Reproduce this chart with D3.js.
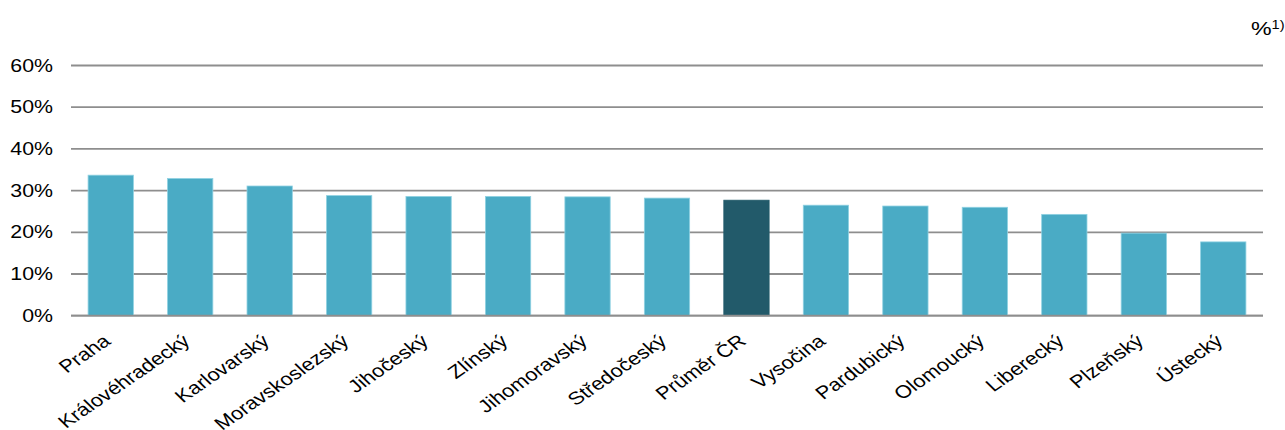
<!DOCTYPE html>
<html>
<head>
<meta charset="utf-8">
<script src="https://cdn.jsdelivr.net/npm/d3@7"></script>
<style>
    body { margin: 0; background: #fff; }
    svg { display: block; font-family: "Liberation Sans", Arial, sans-serif; }
    .grid line { stroke: #8e8e8e; stroke-width: 1.8; }
    .tick-label, .cat-label, .unit { fill: #000; }
</style>
</head>
<body>
<div id="chart"></div>
<script>

var regions = ["Praha", "Královéhradecký", "Karlovarský", "Moravskoslezský", "Jihočeský",
    "Zlínský", "Jihomoravský", "Středočeský", "Průměr ČR", "Vysočina", "Pardubický",
    "Olomoucký", "Liberecký", "Plzeňský", "Ústecký"];

var shares = [33.7, 32.9, 31.1, 28.8, 28.6, 28.6, 28.5, 28.2, 27.7, 26.5, 26.3, 26.0, 24.3, 19.8, 17.7];

var highlighted = ["Průměr ČR"];

var yTicks = [0, 10, 20, 30, 40, 50, 60];

var chartWidth = 1285
    , chartHeight = 430
    , plotLeft = 71
    , plotRight = 1263
    , plotTop = 65.5
    , plotBottom = 315.7
    , stretch = 1.22
    ;

var svg = d3.select("#chart")
    .append("svg")
    .attr("width", chartWidth)
    .attr("height", chartHeight);

var data = regions.map(function(r, i) { return {name: r, value: shares[i]}; });

var x = d3.scaleBand()
    .domain(regions)
    .range([plotLeft, plotRight])
    .paddingInner(0.43)
    .paddingOuter(0.215);

var y = d3.scaleLinear()
    .domain([0, 60])
    .range([plotBottom, plotTop]);

// horizontal grid lines
svg.append("g")
    .attr("class", "grid")
    .selectAll("line")
    .data(yTicks)
    .enter()
    .append("line")
    .attr("x1", plotLeft)
    .attr("x2", plotRight)
    .attr("y1", function(d) { return y(d); })
    .attr("y2", function(d) { return y(d); });

svg.append("g")
    .selectAll("text")
    .data(yTicks)
    .enter()
    .append("text")
    .attr("class", "tick-label")
    .attr("transform", function(d) { return "translate(53," + y(d) + ") scale(" + stretch + ",1)"; })
    .attr("dy", "0.35em")
    .attr("text-anchor", "end")
    .style("font-size", "17.5px")
    .text(function(d) { return d + "%"; });

svg.append("g")
    .selectAll("rect")
    .data(data)
    .enter()
    .append("rect")
    .attr("x", function(d) { return x(d.name); })
    .attr("width", x.bandwidth())
    .attr("y", function(d) { return y(d.value); })
    .attr("height", function(d) { return y(0) - y(d.value); })
    .attr("fill", function(d) { return highlighted.indexOf(d.name) >= 0 ? "#225a6a" : "#4aabc5"; })
    .attr("stroke", function(d) { return highlighted.indexOf(d.name) >= 0 ? "#225a6a" : "#8fd1e2"; })
    .attr("stroke-width", 0.8);

// base line over the bars
svg.append("line")
    .attr("x1", plotLeft)
    .attr("x2", plotRight)
    .attr("y1", y(0))
    .attr("y2", y(0))
    .attr("stroke", "#8e8e8e")
    .attr("stroke-width", 1.8);

svg.append("g")
    .selectAll("text")
    .data(regions)
    .enter()
    .append("text")
    .attr("class", "cat-label")
    .attr("transform", function(d) {
        var cx = x(d) + x.bandwidth() / 2;
        return "translate(" + (cx + 1) + ",343) scale(" + stretch + ",1) rotate(-40)";
    })
    .attr("text-anchor", "end")
    .style("font-size", "18px")
    .text(function(d) { return d; });

var unit = svg.append("text")
    .attr("class", "unit")
    .attr("transform", "translate(1251,35) scale(" + stretch + ",1)")
    .style("font-size", "19px");

unit.append("tspan").text("%");
unit.append("tspan")
    .attr("dy", "-0.5em")
    .style("font-size", "12px")
    .text("1)");

</script>
</body>
</html>
